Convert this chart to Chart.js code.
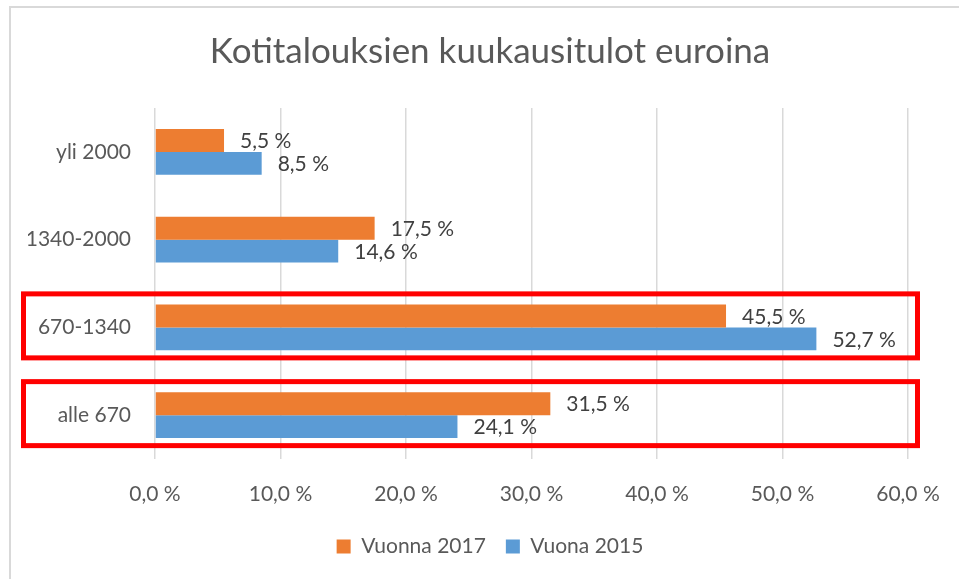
<!DOCTYPE html>
<html>
<head>
<meta charset="utf-8">
<script src="https://cdn.jsdelivr.net/npm/chart.js@4/dist/chart.umd.min.js"></script>
<style>
  html, body { margin: 0; padding: 0; background: #fff; }
  canvas { display: block; }
</style>
</head>
<body>
<canvas id="income_chart" width="959" height="579"></canvas>
<script>
const categories = ['yli 2000', '1340-2000', '670-1340', 'alle 670']
const values2017 = [5.5, 17.5, 45.5, 31.5]
const values2015 = [8.5, 14.6, 52.7, 24.1]
const seriesNames = ['Vuonna 2017', 'Vuona 2015']
const boxedCategories = ['670-1340', 'alle 670']

const textColor = '#595959'
const fmt = (v) => Number(v).toFixed(1).replace('.', ',') + ' %'

// light frame round the whole chart (runs off the right/bottom edge)
const framePlugin = {
  id: 'frame',
  beforeDraw(chart) {
    const ctx = chart.ctx
    ctx.save()
    ctx.strokeStyle = '#d9d9d9'
    ctx.lineWidth = 2
    ctx.strokeRect(10, 7, 1000, 1000)
    ctx.restore()
  }
}

// value labels to the right of each bar
const valueLabels = {
  id: 'valueLabels',
  afterDatasetsDraw(chart) {
    const ctx = chart.ctx
    ctx.save()
    ctx.font = '21px Lato'
    ctx.fillStyle = '#404040'
    ctx.textAlign = 'left'
    ctx.textBaseline = 'middle'
    chart.data.datasets.forEach((ds, i) => {
      chart.getDatasetMeta(i).data.forEach((bar, j) => {
        ctx.fillText(fmt(ds.data[j]), bar.x + 16, bar.y + 1)
      })
    })
    ctx.restore()
  }
}

// red highlight boxes round some categories
const highlightBoxes = {
  id: 'highlightBoxes',
  afterDraw(chart) {
    const ctx = chart.ctx
    const y = chart.scales.y
    const area = chart.chartArea
    ctx.save()
    ctx.strokeStyle = '#ff0000'
    ctx.lineWidth = 5
    boxedCategories.forEach((cat) => {
      const cy = y.getPixelForValue(categories.indexOf(cat)) - 1.5
      ctx.strokeRect(23.5, cy - 32, area.right + 9.5 - 23.5, 64)
    })
    ctx.restore()
  }
}

const ctx = document.getElementById('income_chart').getContext('2d')
const myChart = new Chart(ctx, {
  type: 'bar',
  data: {
    labels: categories,
    datasets: [
      {label: seriesNames[0], data: values2017, backgroundColor: '#ed7d31'},
      {label: seriesNames[1], data: values2015, backgroundColor: '#5b9bd5'}
    ]
  },
  options: {
    indexAxis: 'y',
    responsive: false,
    animation: false,
    categoryPercentage: 0.523,
    barPercentage: 1,
    layout: {padding: {left: 28, right: 7, top: 0, bottom: 12}},
    plugins: {
      tooltip: {enabled: false},
      title: {
        display: true,
        text: 'Kotitalouksien kuukausitulot euroina',
        color: textColor,
        font: {family: 'Lato', size: 35, weight: 'normal'},
        padding: {top: 31, bottom: 35}
      },
      legend: {
        position: 'bottom',
        labels: {
          color: textColor,
          font: {family: 'Lato', size: 21},
          boxWidth: 14,
          boxHeight: 14,
          padding: 20
        }
      }
    },
    scales: {
      x: {
        min: 0,
        max: 60,
        ticks: {
          stepSize: 10,
          maxRotation: 0,
          color: textColor,
          font: {family: 'Lato', size: 21},
          padding: 23,
          callback: (v) => fmt(v)
        },
        grid: {color: '#d9d9d9', lineWidth: 1.5, drawTicks: false},
        border: {display: false},
        afterFit: (scale) => { scale.height = 57; scale.paddingRight = 51; scale.paddingLeft = 0 }
      },
      y: {
        ticks: {
          color: textColor,
          font: {family: 'Lato', size: 21},
          padding: 24
        },
        grid: {display: false, drawTicks: false},
        border: {display: false},
        afterFit: (scale) => { scale.width = 127 }
      }
    }
  },
  plugins: [framePlugin, valueLabels, highlightBoxes]
})
</script>
</body>
</html>
